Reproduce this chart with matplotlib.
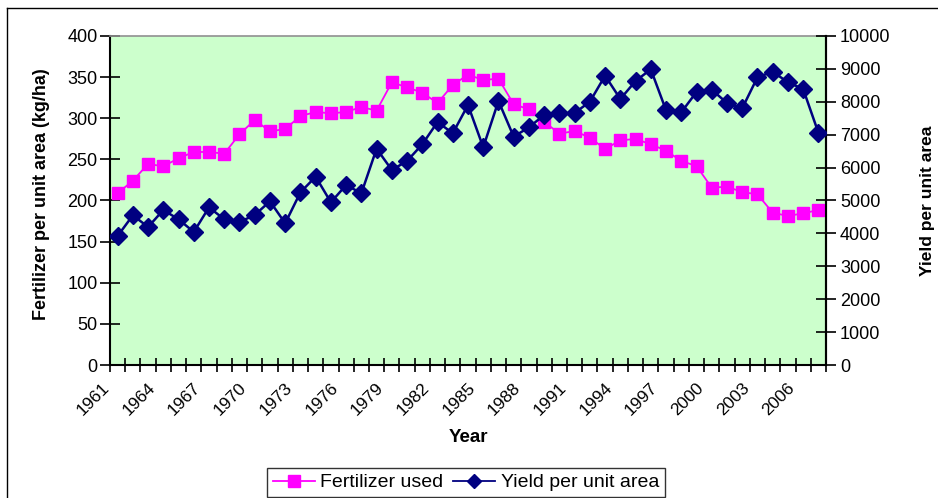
import matplotlib
matplotlib.use("Agg")
import matplotlib.pyplot as plt
from matplotlib.lines import Line2D
from matplotlib.transforms import ScaledTranslation

years = list(range(1961, 2008))
fertilizer = [208.8, 224.1, 244.4, 241.6, 251.3, 259.0, 259.0, 256.9, 280.5, 297.9,
              284.1, 286.9, 302.7, 307.6, 306.0, 307.6, 313.7, 309.2, 343.7, 337.6,
              331.1, 318.5, 340.4, 353.0, 346.5, 348.1, 317.0, 310.9, 295.8, 281.2,
              284.5, 276.4, 262.6, 273.2, 274.8, 268.3, 260.6, 248.0, 241.9, 215.6,
              216.8, 210.3, 207.5, 185.2, 181.2, 184.4, 188.4]
yield_area = [3921, 4550, 4195, 4711, 4428, 4043, 4793, 4428, 4347, 4559,
              4976, 4307, 5249, 5723, 4945, 5471, 5219, 6575, 5927, 6201,
              6708, 7386, 7043, 7903, 6617, 8024, 6939, 7225, 7599, 7650,
              7660, 8003, 8793, 8085, 8632, 8988, 7742, 7681, 8298, 8368,
              7963, 7802, 8745, 8915, 8593, 8389, 7061]
left_ticks = [0, 50, 100, 150, 200, 250, 300, 350, 400]
right_ticks = [0, 1000, 2000, 3000, 4000, 5000, 6000, 7000, 8000, 9000, 10000]

W, H = 938, 498
fig = plt.figure(figsize=(W / 100, H / 100), dpi=100)
plt.rcParams['font.family'] = ['Liberation Sans', 'DejaVu Sans']

L, R, T, B = 110, 826, 36, 365
ax = fig.add_axes([L / W, 1 - B / H, (R - L) / W, (B - T) / H])
ax.set_facecolor('#CCFFCC')
n = len(years)
xs = list(range(n))

ax.plot(xs, fertilizer, color='#FF00FF', lw=1.3, marker='s', ms=8.5,
        mec='#FF00FF', mfc='#FF00FF', zorder=3)
ax.set_xlim(-0.5, n - 0.5)
ax.set_ylim(0, 400)
ax.set_yticks(left_ticks)
ax.set_yticklabels([str(v) for v in left_ticks], fontsize=13)
ax.tick_params(axis='y', direction='inout', length=14, width=1.2, pad=2)

label_idx = [i for i in xs if (years[i] - 1961) % 3 == 0]
ax.set_xticks(label_idx)
ax.set_xticklabels([str(years[i]) for i in label_idx], rotation=45, ha='right',
                   va='top', rotation_mode='anchor', fontsize=12.5)
ax.tick_params(axis='x', which='major', length=0, pad=8)
off = ScaledTranslation(-16 / 100, -4 / 100, fig.dpi_scale_trans)
for lab in ax.get_xticklabels():
    lab.set_transform(lab.get_transform() + off)
ax.set_xticks([i - 0.5 for i in range(n + 1)], minor=True)
ax.tick_params(axis='x', which='minor', direction='inout', length=10, width=1.2)

for s in ['left', 'bottom', 'right']:
    ax.spines[s].set_color('black')
    ax.spines[s].set_linewidth(1.5)
ax.spines['top'].set_color('#909090')
ax.spines['top'].set_linewidth(1.2)

ax.set_ylabel('Fertilizer per unit area (kg/ha)', fontsize=13, fontweight='bold')
ax.yaxis.set_label_coords(-0.084, 0.52)

ax2 = ax.twinx()
ax2.plot(xs, yield_area, color='#000080', lw=1.8, marker='D', ms=9,
         mec='#000080', mfc='#000080', zorder=3)
ax2.set_ylim(0, 10000)
ax2.set_yticks(right_ticks)
ax2.set_yticklabels([str(v) for v in right_ticks], fontsize=13)
ax2.tick_params(axis='y', direction='inout', length=14, width=1.2, pad=3)
for s in ['left', 'bottom', 'top']:
    ax2.spines[s].set_visible(False)
ax2.spines['right'].set_color('black')
ax2.spines['right'].set_linewidth(1.5)
ax2.set_ylabel('Yield per unit area', fontsize=12.5, fontweight='bold', rotation=90)
ax2.yaxis.set_label_coords(1.1315, 0.5)

fig.text(468 / W, 1 - 437 / H, 'Year', ha='center', va='center', fontsize=13.5,
         fontweight='bold')

# outer chart frame
fig.add_artist(Line2D([7 / W, 7 / W], [0, 1 - 8 / H], transform=fig.transFigure,
                      color='black', lw=1))
fig.add_artist(Line2D([7 / W, 1], [1 - 8 / H, 1 - 8 / H], transform=fig.transFigure,
                      color='black', lw=1))

handles = [Line2D([], [], color='#FF00FF', lw=1.3, marker='s', ms=8.5),
           Line2D([], [], color='#000080', lw=1.3, marker='D', ms=7)]
leg = fig.legend(handles, ['Fertilizer used', 'Yield per unit area'], loc='center',
                 bbox_to_anchor=(466 / W, 1 - 482.5 / H), ncol=2, fontsize=14,
                 frameon=True, fancybox=False, edgecolor='black', borderpad=0.3,
                 handlelength=2.15, handletextpad=0.3, columnspacing=0.5,
                 borderaxespad=0)
leg.get_frame().set_linewidth(1)

fig.savefig('out.png', dpi=100)
